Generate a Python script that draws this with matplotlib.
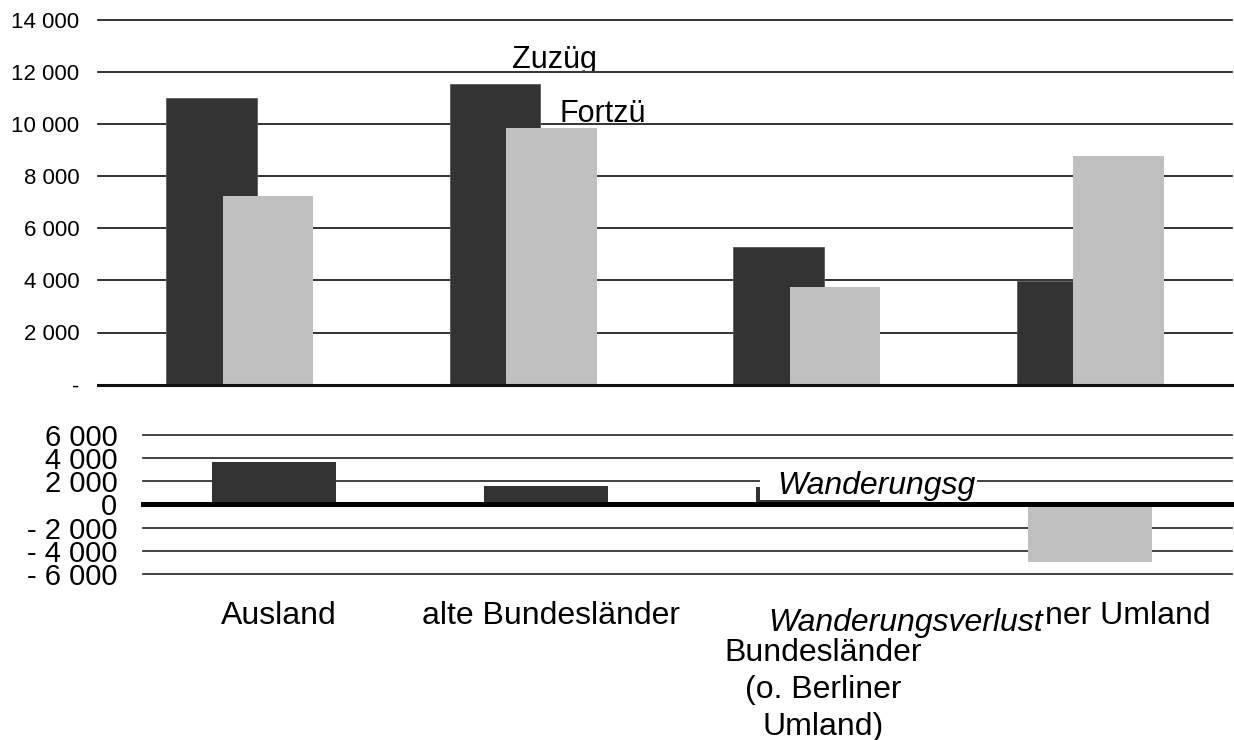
import numpy as np
import matplotlib.pyplot as plt
from matplotlib.patches import Rectangle
from matplotlib.transforms import Bbox

plt.rcParams['font.family'] = ['Liberation Sans', 'DejaVu Sans']

# Werte
kategorien = ['Ausland', 'alte Bundesländer',
              'neue\nBundesländer\n(o. Berliner\nUmland)', 'Berliner Umland']
zuzuege = [11000, 11560, 5300, 3980]
fortzuege = [7260, 9860, 3750, 8790]
saldo = [3640, 1580, 1460, -4940]

oben_ticks = np.arange(0, 14001, 2000)
unten_ticks = np.arange(-6000, 6001, 2000)

DUNKEL = '#333333'
HELL = '#c0c0c0'
W, H = 1234, 740


def tausend(v):
    s = f'{abs(int(v)):,}'.replace(',', ' ')
    return '- ' + s if v < 0 else s


# Pixelbox (Ursprung oben links) -> Figurkoordinaten
def px(x0, y0, x1, y1):
    return [x0 / W, 1 - y1 / H, (x1 - x0) / W, (y1 - y0) / H]


fig = plt.figure(figsize=(W / 100, H / 100), dpi=100)
ax1 = fig.add_axes(px(98, 20.5, 1232, 384.5))
ax2 = fig.add_axes(px(143, 434.7, 1232, 574))

x = np.arange(len(kategorien))

# oberes Diagramm: Zuzuege / Fortzuege
ax1.bar(x - 0.1, zuzuege, 0.32, color=DUNKEL, edgecolor='#5a5a5a', linewidth=0.6, zorder=2)
ax1.bar(x + 0.1, fortzuege, 0.32, color=HELL, zorder=2)
ax1.set_xlim(-0.5, 3.5)
ax1.set_ylim(0, 14000)
for v in oben_ticks:
    ax1.axhline(v, color='#111111', lw=2.2 if v == 0 else 1.2, clip_on=False,
                zorder=3 if v == 0 else 1)
ax1.set_yticks(oben_ticks)
ax1.set_yticklabels(['-' if v == 0 else tausend(v) for v in oben_ticks])
ax1.set_xticks([])
ax1.tick_params(axis='y', length=0, pad=13.5, labelsize=16)
for s in ax1.spines.values():
    s.set_visible(False)

# unteres Diagramm: Wanderungssaldo
farben = [DUNKEL if v > 0 else HELL for v in saldo]
ax2.bar(x, saldo, 0.455, color=farben, zorder=2)
ax2.set_xlim(-0.48, 3.52)
ax2.set_ylim(-6000, 6000)
for v in unten_ticks:
    ax2.axhline(v, color='#000000' if v == 0 else '#222222',
                lw=3.6 if v == 0 else 1.2, clip_on=False,
                zorder=3 if v == 0 else 1)
ax2.set_yticks(unten_ticks)
ax2.set_yticklabels([tausend(v) for v in unten_ticks])
ax2.set_xticks(x + 0.018)
ax2.set_xticklabels(kategorien, linespacing=1.3)
ax2.tick_params(axis='y', length=0, pad=18.5, labelsize=21)
ax2.tick_params(axis='x', length=0, pad=19.5, labelsize=23)
for s in ax2.spines.values():
    s.set_visible(False)

# Beschriftungen (abgeschnitten wie im Original)
t = fig.text(512 / W, 1 - 68 / H, 'Zuzüg', fontsize=22, va='baseline')
t.set_clip_box(Bbox.from_extents(0, H - 71, W, H))
t.set_clip_on(True)
fig.text(560 / W, 1 - 122 / H, 'Fortzü', fontsize=22, va='baseline')

fig.patches.append(Rectangle((760 / W, 1 - 499.5 / H), 217 / W, 34 / H,
                             transform=fig.transFigure, facecolor='white',
                             edgecolor='none', zorder=2.5))
fig.text(777 / W, 1 - 494 / H, 'Wanderungsg', fontsize=23, style='italic',
         va='baseline', zorder=3)

fig.patches.append(Rectangle((762 / W, 1 - 636 / H), 283 / W, 40 / H,
                             transform=fig.transFigure, facecolor='white',
                             edgecolor='none', zorder=2.5))
fig.text(768 / W, 1 - 631.5 / H, 'Wanderungsverlust', fontsize=23, style='italic',
         va='baseline', zorder=3)

fig.savefig('out.png', dpi=100)
